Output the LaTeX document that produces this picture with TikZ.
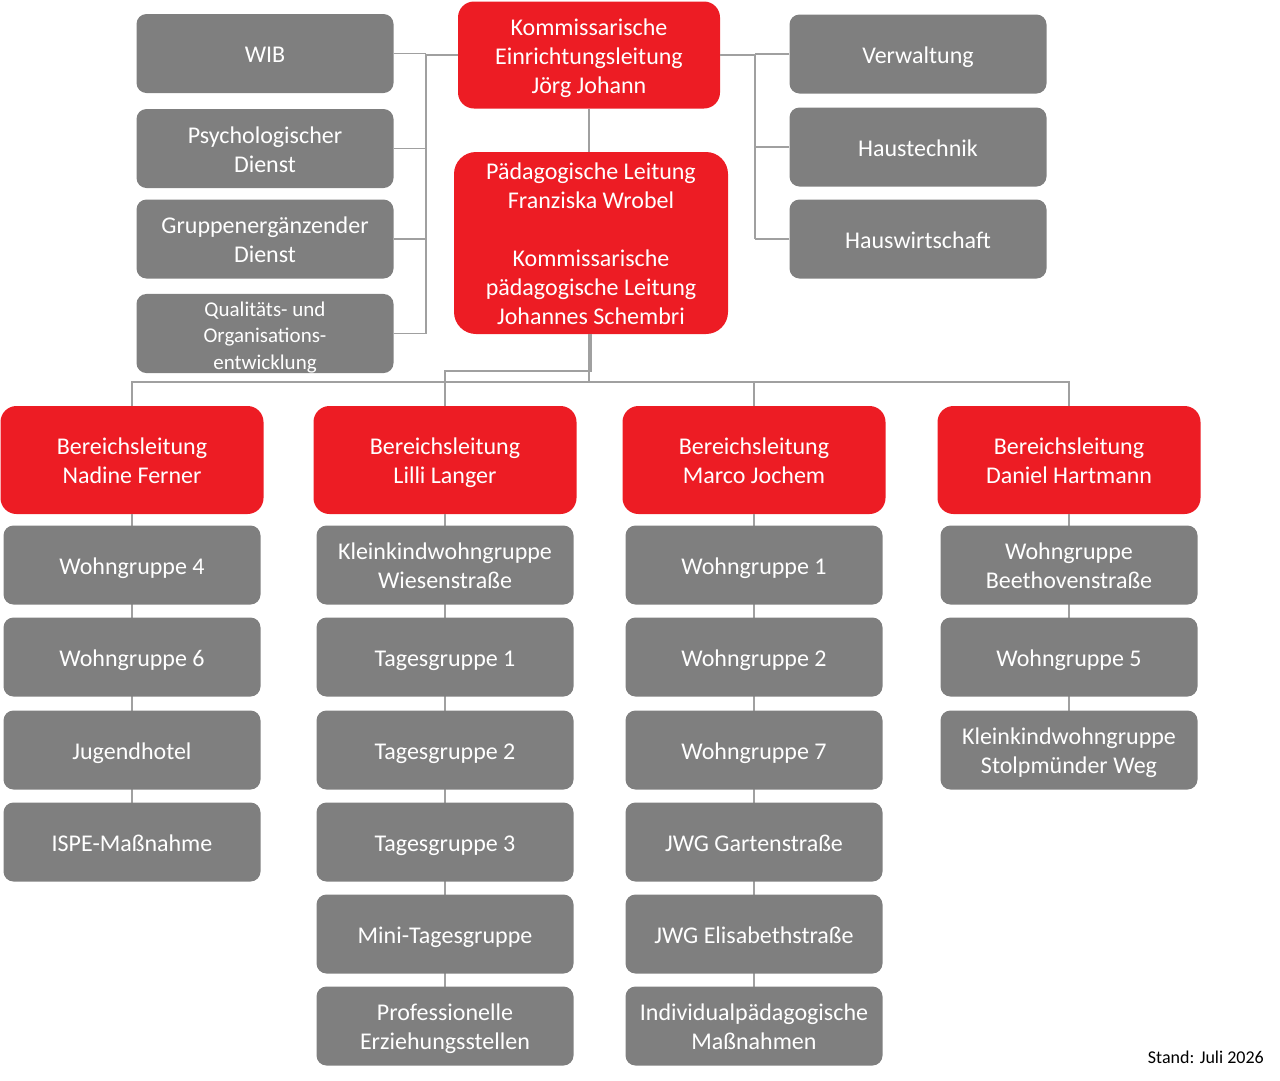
\documentclass[tikz,border=0pt]{standalone}
\usepackage{fontspec}
\setmainfont{Carlito}
\definecolor{boxred}{HTML}{ED1C24}
\definecolor{boxgray}{HTML}{7F7F7F}
\definecolor{linegray}{HTML}{A0A0A0}
\newcommand{\ts}{\rule{0pt}{27.5pt}}
\newcommand{\es}{\strut}
\begin{document}
\begin{tikzpicture}[x=1pt,y=-1pt,
  base/.style={rectangle, align=center, text=white, inner sep=0pt, font=\fontsize{24}{29}\selectfont},
  graybox/.style={base, fill=boxgray, rounded corners=10pt, minimum width=257pt, minimum height=79pt},
  redbox/.style={base, fill=boxred, rounded corners=16pt, minimum width=263pt, minimum height=108pt},
  conn/.style={draw=linegray, line width=1.2pt}]
\useasboundingbox (0,0) rectangle (1280,1080);

% top level
\node[redbox, minimum width=262pt, minimum height=107pt] (top) at (589,55) {\ts Kommissarische\\Einrichtungsleitung\\Jörg Johann\es};
\node[redbox, minimum width=274pt, minimum height=182pt, rounded corners=22pt] (ped) at (591,243) {\ts Pädagogische Leitung\\Franziska Wrobel\\[29pt]Kommissarische\\pädagogische Leitung\\Johannes Schembri\es};

% left staff
\node[graybox] (wib) at (265,53.5) {\ts WIB\es};
\node[graybox] (psy) at (265,148.5) {\ts Psychologischer\\Dienst\es};
\node[graybox] (gru) at (265,239) {\ts Gruppenergänzender\\Dienst\es};
\node[graybox, font=\fontsize{21}{26.5}\selectfont] (qual) at (265,333.5) {\rule{0pt}{22.5pt}Qualitäts- und\\Organisations-\\entwicklung};

% right staff
\node[graybox] (ver) at (918,54) {\ts Verwaltung\es};
\node[graybox] (hte) at (918,147) {\ts Haustechnik\es};
\node[graybox] (hwi) at (918,239) {\ts Hauswirtschaft\es};

% area heads
\node[redbox] (b1) at (132,460) {\ts Bereichsleitung\\Nadine Ferner\es};
\node[redbox] (b2) at (445,460) {\ts Bereichsleitung\\Lilli Langer\es};
\node[redbox] (b3) at (754,460) {\ts Bereichsleitung\\Marco Jochem\es};
\node[redbox] (b4) at (1069,460) {\ts Bereichsleitung\\Daniel Hartmann\es};

% connectors top
\coordinate (lbus) at (426,54);
\coordinate (rbus) at (755,54);
\draw[conn] (top.west) -- (top.west -| lbus);
\draw[conn] (lbus |- wib.east) -- (lbus |- qual.east);
\draw[conn] (wib.east) -- (wib.east -| lbus);
\draw[conn] (psy.east) -- (psy.east -| lbus);
\draw[conn] (gru.east) -- (gru.east -| lbus);
\draw[conn] (qual.east) -- (qual.east -| lbus);
\draw[conn] (top.east) -- (top.east -| rbus);
\draw[conn] (rbus |- ver.west) -- (rbus |- hwi.west);
\draw[conn] (ver.west) -- (ver.west -| rbus);
\draw[conn] (hte.west) -- (hte.west -| rbus);
\draw[conn] (hwi.west) -- (hwi.west -| rbus);
\draw[conn] (top.south) -- (top.south |- ped.north);

% connectors to area heads
\coordinate (hub1) at (591,371);
\coordinate (hub2) at (589,382);
\draw[conn] (ped.south) -- (hub1) -| (b2.north);
\draw[conn] (ped.south -| hub2) -- (hub2);
\draw[conn] (b1.north) |- (hub2) -| (b4.north);
\draw[conn] (b3.north) -- (b3.north |- hub2);

% column chains (lines behind boxes)
\coordinate (c1e) at (132,842);
\coordinate (c2e) at (445,1026);
\coordinate (c3e) at (754,1026);
\coordinate (c4e) at (1069,750);
\draw[conn] (b1.south) -- (c1e);
\draw[conn] (b2.south) -- (c2e);
\draw[conn] (b3.south) -- (c3e);
\draw[conn] (b4.south) -- (c4e);

% column 1
\node[graybox] (a1) at (132,565) {\ts Wohngruppe 4\es};
\node[graybox] (a2) at (132,657) {\ts Wohngruppe 6\es};
\node[graybox] (a3) at (132,750) {\ts Jugendhotel\es};
\node[graybox] (a4) at (132,842) {\ts ISPE-Maßnahme\es};

% column 2
\node[graybox] (l1) at (445,565) {\ts Kleinkindwohngruppe\\Wiesenstraße\es};
\node[graybox] (l2) at (445,657) {\ts Tagesgruppe 1\es};
\node[graybox] (l3) at (445,750) {\ts Tagesgruppe 2\es};
\node[graybox] (l4) at (445,842) {\ts Tagesgruppe 3\es};
\node[graybox] (l5) at (445,934) {\ts Mini-Tagesgruppe\es};
\node[graybox] (l6) at (445,1026) {\ts Professionelle\\Erziehungsstellen\es};

% column 3
\node[graybox] (m1) at (754,565) {\ts Wohngruppe 1\es};
\node[graybox] (m2) at (754,657) {\ts Wohngruppe 2\es};
\node[graybox] (m3) at (754,750) {\ts Wohngruppe 7\es};
\node[graybox] (m4) at (754,842) {\ts JWG Gartenstraße\es};
\node[graybox] (m5) at (754,934) {\ts JWG Elisabethstraße\es};
\node[graybox] (m6) at (754,1026) {\ts Individualpädagogische\\Maßnahmen\es};

% column 4
\node[graybox] (d1) at (1069,565) {\ts Wohngruppe\\Beethovenstraße\es};
\node[graybox] (d2) at (1069,657) {\ts Wohngruppe 5\es};
\node[graybox] (d3) at (1069,750) {\ts Kleinkindwohngruppe\\Stolpmünder Weg\es};

\node[anchor=east, inner sep=0pt, font=\fontsize{18}{21}\selectfont] (stand) at (1264,1057) {Stand: Juli 2026};
\end{tikzpicture}
\end{document}
